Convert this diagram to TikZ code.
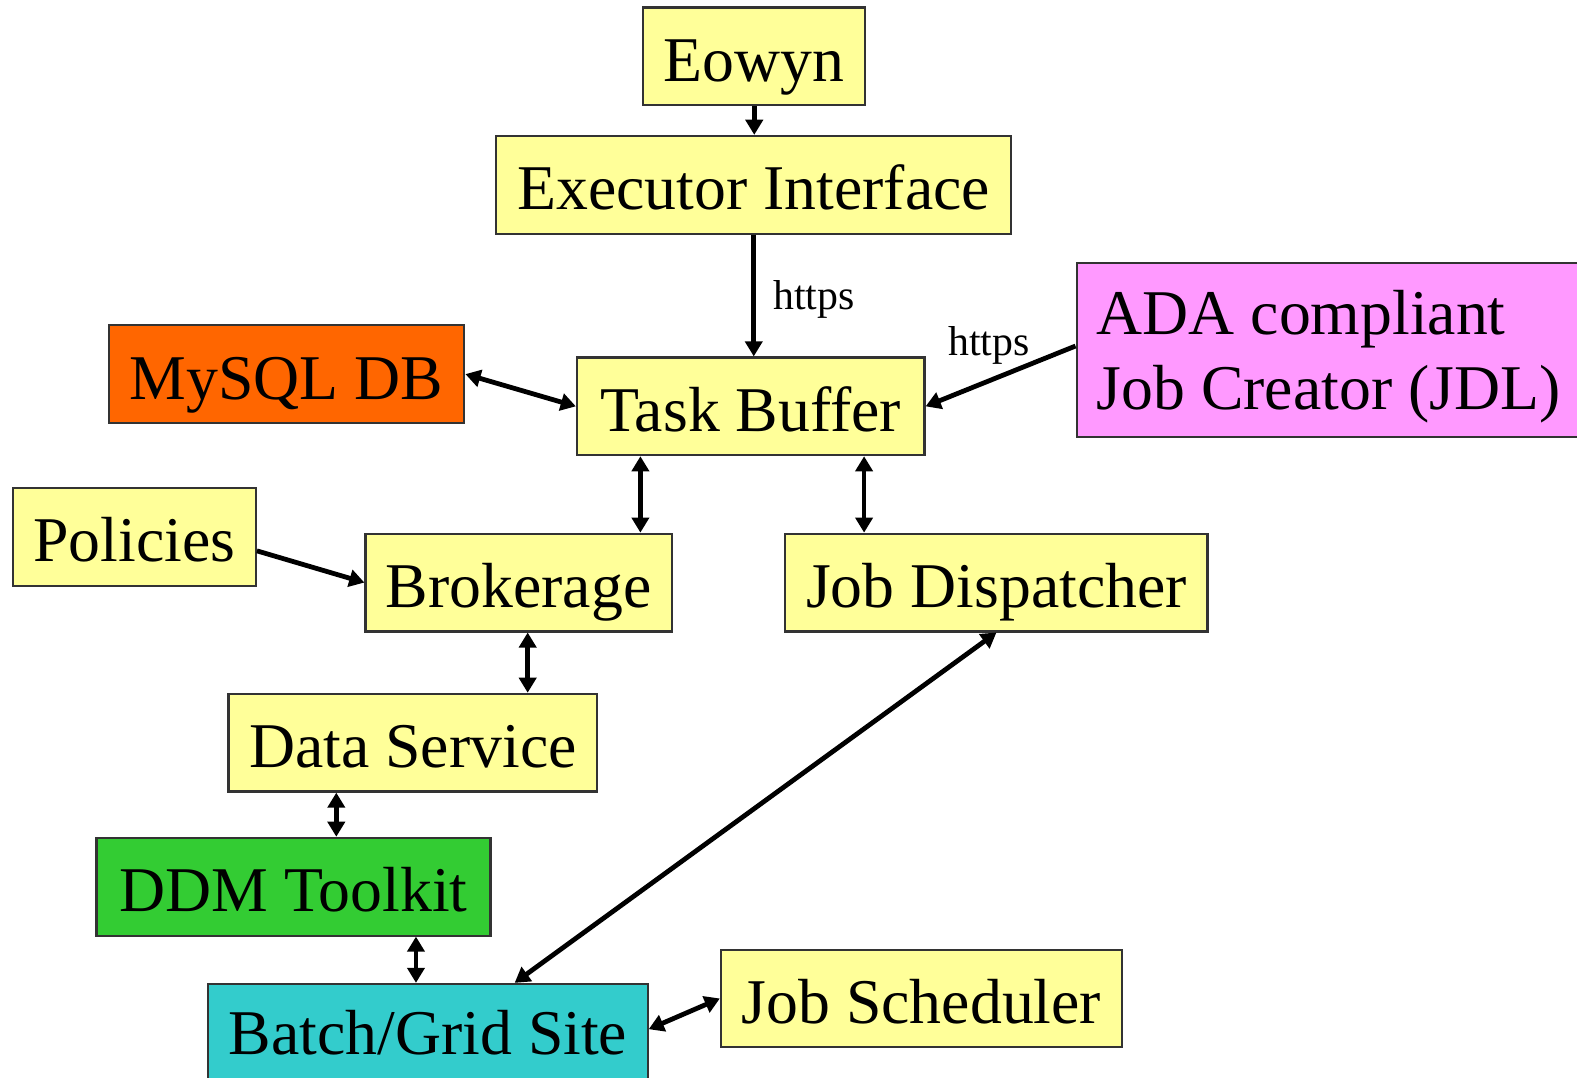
\documentclass[tikz,border=0pt]{standalone}
\usepackage{fontspec}
\setmainfont{Liberation Serif}
\usetikzlibrary{arrows.meta,positioning}

\definecolor{boxyellow}{HTML}{FFFF99}
\definecolor{dborange}{HTML}{FF6600}
\definecolor{adapink}{HTML}{FF99FF}
\definecolor{ddmgreen}{HTML}{33CC33}
\definecolor{sitecyan}{HTML}{33CCCC}

\begin{document}
\begin{tikzpicture}[
		x=0.01cm, y=-0.01cm,
		font=\fontsize{18}{21.3}\selectfont,
		arrow/.style={-{Triangle[length=0.15cm, width=0.17cm]}, line width=1.35pt},
		darrow/.style={{Triangle[length=0.15cm, width=0.17cm]}-{Triangle[length=0.15cm, width=0.17cm]}, line width=1.35pt},
		panel/.style={draw=black!80, line width=0.6pt, fill=boxyellow, inner sep=0pt},
		block/.style={panel, minimum height=0.97cm, text height=0.5cm, text depth=0pt},
		tag/.style={font=\fontsize{11.8}{14}\selectfont, inner sep=0pt},
	]
		\useasboundingbox (0,0) rectangle (1566,1069.5);

		\node (eowyn) [block, minimum width=2.2cm] at (749,56) {Eowyn};
		\node (exec) [block, minimum width=5.11cm] at (748.5,183.5) {Executor Interface};
		\node (mysql) [block, fill=dborange, minimum width=3.53cm] at (284.5,371.5) {MySQL DB};
		\node (task) [block, minimum width=3.45cm] at (745.5,403.5) {Task Buffer};
		\node (ada) [panel, fill=adapink, anchor=north west, minimum height=1.73cm, text width=5.1cm, inner xsep=0.2cm, text depth=0.75cm, align=left] at (1068,260) {\spaceskip=0pt ADA compliant\\Job Creator (JDL)};
		\node (policies) [block, minimum width=2.41cm] at (133.5,533) {Policies};
		\node (broker) [block, minimum width=3.04cm] at (515,578.5) {Brokerage};
		\node (dispatch) [block, minimum width=4.19cm] at (989.5,578.5) {Job Dispatcher};
		\node (data) [block, minimum width=3.66cm] at (410,737.5) {Data Service};
		\node (ddm) [block, fill=ddmgreen, minimum width=3.91cm] at (291.5,880.5) {DDM Toolkit};
		\node (batch) [panel, fill=sitecyan, anchor=north, minimum width=4.36cm, text height=0.5cm, text depth=0.4cm, inner ysep=0.2cm] at (425,976) {Batch/Grid Site};
		\node (sched) [block, minimum width=3.98cm] at (915,991.5) {Job Scheduler};

		\draw[arrow] (eowyn.south) -- (eowyn.south |- exec.north);
		\draw[arrow] (exec.south) -- (exec.south |- task.north) node[tag, pos=0.53, right=0.17cm] {https};
		\draw[arrow] ([yshift=0.04cm]ada.west) -- (task.east) node[tag, pos=0.53, above=0.11cm, xshift=-0.07cm] {https};
		\draw[darrow] (mysql.east) -- (task.west);
		\draw[arrow] ([yshift=-0.14cm]policies.east) -- (broker.west);
		\draw[darrow] ([xshift=-1.095cm]task.south) -- ([xshift=-1.095cm]task.south |- broker.north);
		\draw[darrow] ([xshift=1.125cm]task.south) -- ([xshift=1.125cm]task.south |- dispatch.north);
		\draw[darrow] ([xshift=0.09cm]broker.south) -- ([xshift=0.09cm]broker.south |- data.north);
		\draw[darrow] ([xshift=-0.76cm]data.south) -- ([xshift=-0.76cm]data.south |- ddm.north);
		\draw[darrow] ([xshift=1.215cm]ddm.south) -- ([xshift=1.215cm]ddm.south |- batch.north);
		\draw[darrow] (dispatch.south) -- ([xshift=0.86cm]batch.north);
		\draw[darrow] ([yshift=-0.46cm]batch.north east) -- (sched.west);
	\end{tikzpicture}
\end{document}
